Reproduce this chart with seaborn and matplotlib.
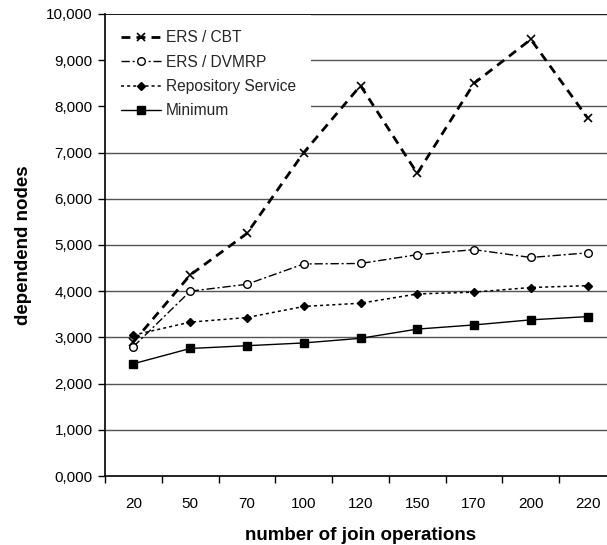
import matplotlib
matplotlib.use("Agg")
import matplotlib.pyplot as plt
import seaborn as sns
import numpy as np

categories = ["20", "50", "70", "100", "120", "150", "170", "200", "220"]
ers_cbt = [2900, 4350, 5250, 7000, 8450, 6550, 8500, 9450, 7750]
ers_dvmrp = [2800, 4000, 4150, 4590, 4600, 4790, 4900, 4730, 4830]
repository = [3050, 3330, 3430, 3670, 3740, 3940, 3980, 4080, 4120]
minimum = [2430, 2760, 2820, 2880, 2980, 3180, 3270, 3380, 3450]
series_names = ["ERS / CBT", "ERS / DVMRP", "Repository Service", "Minimum"]
y_ticks = [0, 1000, 2000, 3000, 4000, 5000, 6000, 7000, 8000, 9000, 10000]
y_tick_labels = ["0,000", "1,000", "2,000", "3,000", "4,000", "5,000",
                 "6,000", "7,000", "8,000", "9,000", "10,000"]

sns.set_theme(style="white")
plt.rcParams['font.family'] = ['Liberation Sans', 'DejaVu Sans']

fig = plt.figure(figsize=(6.07, 5.45), dpi=100)
ax = fig.add_axes([105/607, 69/545, 511/607, 462/545])

pos = np.arange(len(categories))
styles = [
    dict(marker="x", linestyle=(0, (3.2, 2.2)), lw=2.0, ms=5.5, mew=1.2, mfc="black"),
    dict(marker="o", linestyle=(0, (6, 2, 1.5, 2)), lw=1.0, ms=5.5, mew=1.0, mfc="white"),
    dict(marker="D", linestyle=(0, (2, 2)), lw=1.1, ms=4.5, mew=1.0, mfc="black"),
    dict(marker="s", linestyle="-", lw=1.0, ms=6, mew=1.0, mfc="black"),
]
for vals, name, st in zip([ers_cbt, ers_dvmrp, repository, minimum], series_names, styles):
    sns.lineplot(x=pos, y=vals, ax=ax, color="black", mec="black",
                 label=name, zorder=3, **st)

ax.set_xlim(-0.5, len(categories) - 0.5)
ax.set_ylim(0, 10000)
ax.set_yticks(y_ticks)
ax.set_yticklabels(y_tick_labels)
ax.set_xticks(pos)
ax.set_xticklabels(categories)
ax.set_xticks(np.arange(-0.5, len(categories) + 0.5, 1), minor=True)
ax.tick_params(axis="x", which="major", length=0, pad=15, labelsize=11, colors="black")
ax.tick_params(axis="x", which="minor", length=5, width=1, direction="out", bottom=True, color="black")
ax.tick_params(axis="y", which="major", length=5, width=1, direction="out", left=True,
               pad=4, labelsize=11, colors="black")

ax.grid(False)
for y in y_ticks[1:]:
    ax.axhline(y, color="#1a1a1a" if y == 10000 else "#555555", lw=1.0, zorder=1)

for s in ["top", "right"]:
    ax.spines[s].set_visible(False)
for s in ["left", "bottom"]:
    ax.spines[s].set_color("black")
    ax.spines[s].set_linewidth(1.2)
    ax.spines[s].set_zorder(10)

ax.set_xlabel("number of join operations", fontsize=13.5, fontweight="bold", labelpad=12, color="black")
ax.set_ylabel("dependend nodes", fontsize=13.5, fontweight="bold", labelpad=10, color="black")

leg = ax.legend(loc="upper left", bbox_to_anchor=(0.0, 0.998), borderaxespad=0.0,
                frameon=True, fancybox=False, framealpha=1.0, edgecolor="none",
                facecolor="white", fontsize=11.2, handlelength=2.6, handletextpad=0.3,
                labelspacing=0.6, borderpad=1.0)
leg.set_zorder(5)

fig.savefig("out.png", dpi=100)
